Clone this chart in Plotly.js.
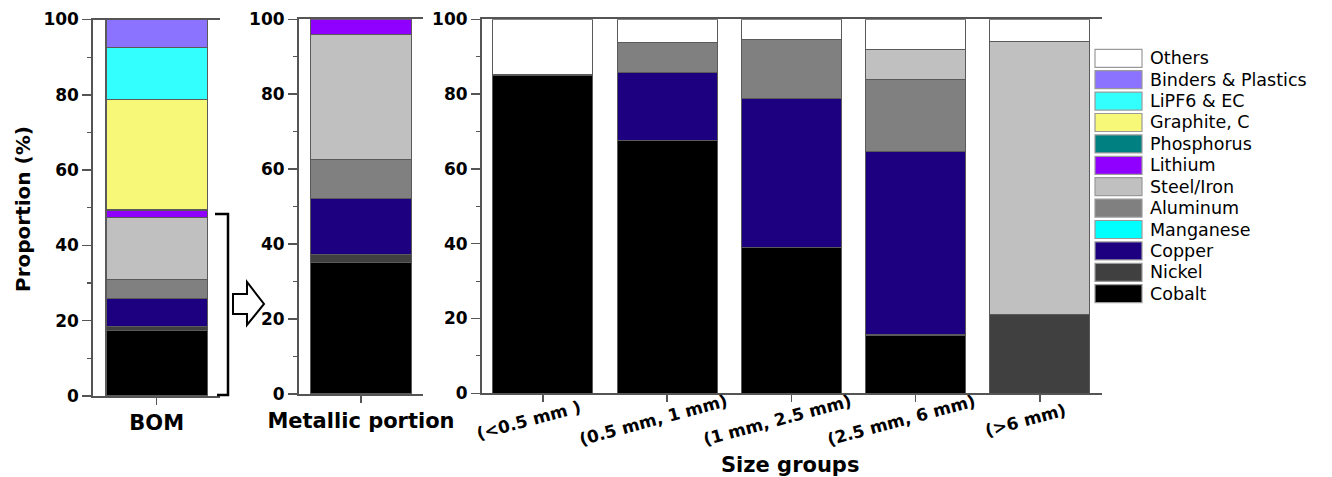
<!DOCTYPE html>
<html>
<head>
<meta charset="utf-8">
<script src="https://cdn.plot.ly/plotly-3.0.1.min.js"></script>
<style>html,body{margin:0;padding:0;background:#fff}#chart{width:1332px;height:477px}</style>
</head>
<body>
<div id="chart"></div>
<script>
// ---- data (stack order: bottom -> top) ----
const materials = ['Cobalt','Nickel','Copper','Manganese','Aluminum','Steel/Iron','Lithium','Phosphorus','Graphite, C','LiPF6 & EC','Binders & Plastics','Others'];
const materialColors = ['#000000','#404040','#1c0080','#00ffff','#808080','#c0c0c0','#8f00ff','#008080','#f8f878','#33ffff','#8c73ff','#ffffff'];

const bomLabel = 'BOM';
const metallicLabel = 'Metallic portion';
const bomShares      = [17.3, 1.1, 7.4, 0, 5.2, 16.5, 1.9, 0, 29.4, 13.8, 7.4, 0];
const metallicShares = [35.2, 2.1, 14.9, 0, 10.5, 33.2, 4.1, 0, 0, 0, 0, 0];

const sizeGroups = ['(<0.5 mm )', '(0.5 mm, 1 mm)', '(1 mm, 2.5 mm)', '(2.5 mm, 6 mm)', '(>6 mm)'];
const cobaltBySize    = [85.1, 67.5, 38.9, 15.6, 0];
const nickelBySize    = [0, 0, 0, 0, 21.1];
const copperBySize    = [0, 18.2, 40.0, 49.0, 0];
const manganeseBySize = [0, 0, 0, 0, 0];
const aluminumBySize  = [0, 8.1, 15.6, 19.4, 0];
const steelBySize     = [0, 0, 0, 8.0, 72.9];
const lithiumBySize   = [0, 0, 0, 0, 0];
const phosphorusBySize= [0, 0, 0, 0, 0];
const graphiteBySize  = [0, 0, 0, 0, 0];
const lipf6BySize     = [0, 0, 0, 0, 0];
const bindersBySize   = [0, 0, 0, 0, 0];
const othersBySize    = [14.9, 6.2, 5.5, 8.0, 6.0];
const sizeSeries = [cobaltBySize, nickelBySize, copperBySize, manganeseBySize, aluminumBySize, steelBySize,
                    lithiumBySize, phosphorusBySize, graphiteBySize, lipf6BySize, bindersBySize, othersBySize];

const yTitle = 'Proportion (%)';
const xTitle3 = 'Size groups';

// ---- layout helpers ----
const W = 1332, H = 477;
const px = x => x / W;
const py = y => 1 - y / H;
const FONT = 'DejaVu Sans';
const outline = {color: '#5a5a5a', width: 1.1};

const traces = [];
materials.forEach((m, i) => {
  const v = y => (y === 0 ? null : y);
  traces.push({type: 'bar', name: m, x: [bomLabel], y: [v(bomShares[i])], xaxis: 'x', yaxis: 'y', width: 0.8,
    marker: {color: materialColors[i], line: outline}, showlegend: false, hoverinfo: 'name+y'});
  traces.push({type: 'bar', name: m, x: [metallicLabel], y: [v(metallicShares[i])], xaxis: 'x2', yaxis: 'y2', width: 0.82,
    marker: {color: materialColors[i], line: outline}, showlegend: false, hoverinfo: 'name+y'});
  traces.push({type: 'bar', name: m, x: sizeGroups, y: sizeSeries[i].map(v), xaxis: 'x3', yaxis: 'y3', width: 0.805,
    marker: {color: materialColors[i], line: outline}, showlegend: false, hoverinfo: 'name+y'});
});

const axisLine = '#555555';
const yCommon = {
  range: [0, 100], dtick: 20, tick0: 0, ticks: 'outside', ticklen: 9, tickwidth: 1.5, tickcolor: axisLine,
  showline: true, linecolor: axisLine, linewidth: 2, mirror: false, showgrid: false, zeroline: false,
  tickfont: {family: FONT, size: 17, weight: 'bold', color: '#000'},
  minor: {dtick: 10, ticks: 'outside', ticklen: 4, tickwidth: 1.2, tickcolor: axisLine, showgrid: false},
  automargin: false, fixedrange: true
};
const xCommon = {
  type: 'category', ticks: 'outside', ticklen: 7, tickwidth: 1.5, tickcolor: axisLine,
  showline: true, linecolor: axisLine, linewidth: 2, mirror: true, showgrid: false, zeroline: false,
  tickfont: {family: FONT, size: 21, weight: 'bold', color: '#000'},
  automargin: false, fixedrange: true
};

const shapes = [];
const annotations = [];

// legend (custom, large swatches)
const legendOrder = materials.map((m, i) => i).reverse();
legendOrder.forEach((idx, k) => {
  const yc = 58.3 + 21.4 * k;
  shapes.push({type: 'rect', xref: 'paper', yref: 'paper', x0: px(1095), x1: px(1142), y0: py(yc + 9), y1: py(yc - 9),
    fillcolor: materialColors[idx], line: {color: '#9a9a9a', width: 1.2}});
  annotations.push({xref: 'paper', yref: 'paper', x: px(1148), y: py(yc), xanchor: 'left', yanchor: 'middle',
    text: materials[idx], showarrow: false, font: {family: FONT, size: 17.5, color: '#000'}});
});

// bracket and arrow linking BOM to metallic portion
const P = (x, y) => px(x) + ',' + py(y);
shapes.push({type: 'path', xref: 'paper', yref: 'paper',
  path: 'M' + P(215, 214) + 'L' + P(228, 214) + 'L' + P(228, 395) + 'L' + P(217, 395),
  line: {color: '#000', width: 2.5}});
shapes.push({type: 'path', xref: 'paper', yref: 'paper',
  path: 'M' + P(233, 294) + 'L' + P(247, 294) + 'L' + P(247, 282) + 'L' + P(264, 304) + 'L' + P(247, 325) +
        'L' + P(247, 314) + 'L' + P(233, 314) + 'Z',
  line: {color: '#000', width: 2}, fillcolor: '#fff'});

// size-group tick labels (angled, centred)
sizeGroups.forEach(g => {
  annotations.push({xref: 'x3', yref: 'paper', x: g, y: py(420), xanchor: 'center', yanchor: 'middle', xshift: -14,
    textangle: -15, text: g, showarrow: false, font: {family: FONT, size: 17, weight: 'bold', color: '#000'}});
});
annotations.push({xref: 'paper', yref: 'paper', x: px(790), y: py(465), xanchor: 'center', yanchor: 'middle',
  text: xTitle3, showarrow: false, font: {family: FONT, size: 21, weight: 'bold', color: '#000'}});
annotations.push({xref: 'paper', yref: 'paper', x: px(23), y: py(209), xanchor: 'center', yanchor: 'middle',
  textangle: -90, text: yTitle, showarrow: false, font: {family: FONT, size: 20, weight: 'bold', color: '#000'}});

const layout = {
  width: W, height: H, margin: {l: 0, r: 0, t: 0, b: 0, pad: 0},
  paper_bgcolor: '#fff', plot_bgcolor: 'rgba(0,0,0,0)',
  barmode: 'stack', showlegend: false,
  xaxis:  Object.assign({}, xCommon, {domain: [px(93.3), px(220)], range: [-0.5, 0.5], anchor: 'y'}),
  yaxis:  Object.assign({}, yCommon, {domain: [py(396), py(19.5)], anchor: 'x'}),
  xaxis2: Object.assign({}, xCommon, {domain: [px(299), px(423)], range: [-0.5, 0.5], anchor: 'y2'}),
  yaxis2: Object.assign({}, yCommon, {domain: [py(394), py(19.3)], anchor: 'x2'}),
  xaxis3: Object.assign({}, xCommon, {domain: [px(482), px(1102)], range: [-0.49, 4.5], anchor: 'y3', showticklabels: false}),
  yaxis3: Object.assign({}, yCommon, {domain: [py(393.3), py(19.3)], anchor: 'x3'}),
  shapes: shapes, annotations: annotations
};

Plotly.newPlot('chart', traces, layout, {displayModeBar: false, staticPlot: true});
</script>
</body>
</html>
